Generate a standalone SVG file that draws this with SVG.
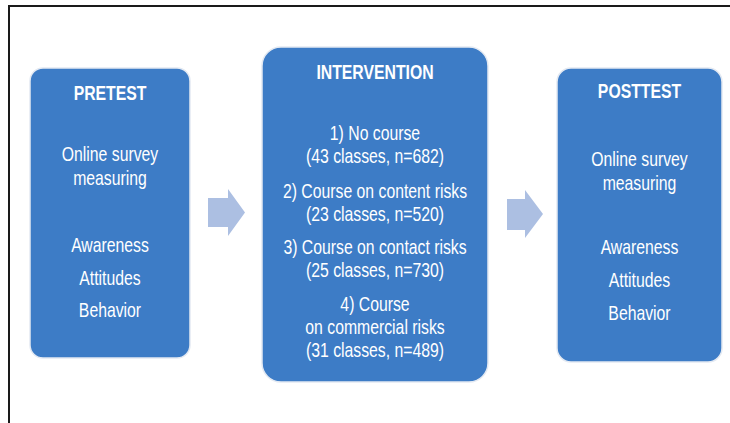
<svg xmlns="http://www.w3.org/2000/svg" width="730" height="423" viewBox="0 0 730 423">
<style>
.box{fill:#3d7cc6;stroke:#e3e9f2;stroke-width:1.5}
.t{font-family:"Liberation Sans",Arial,sans-serif;font-size:20.5px;fill:#ffffff;text-anchor:middle}
.h{font-weight:bold}
.arrow{fill:#acbfe2}
</style>
<rect width="730" height="423" fill="#ffffff"/>
<path d="M9 423 V6 H730" fill="none" stroke="#1a1a1a" stroke-width="2"/>
<g id="connectors">
<polygon class="arrow" points="208,198 228,198 228,189 245,212.5 228,236 228,227 208,227"/>
<polygon class="arrow" points="507,199 525,199 525,190 543,214 525,238 525,230 507,230"/>
</g>
<g id="pretest">
<rect class="box" x="30" y="68" width="160" height="290" rx="13"/>
<g transform="translate(110 0) scale(0.77 1)">
<text class="t h" x="0" y="100">PRETEST</text>
<text class="t" x="0" y="161">Online survey</text>
<text class="t" x="0" y="185">measuring</text>
<text class="t" x="0" y="252">Awareness</text>
<text class="t" x="0" y="285">Attitudes</text>
<text class="t" x="0" y="317">Behavior</text>
</g>
</g>
<g id="intervention">
<rect class="box" x="262" y="47" width="226" height="335" rx="19"/>
<g transform="translate(375 0) scale(0.77 1)">
<text class="t h" x="0" y="79">INTERVENTION</text>
<text class="t" x="0" y="140">1) No course</text>
<text class="t" x="0" y="163">(43 classes, n=682)</text>
<text class="t" x="0" y="198">2) Course on content risks</text>
<text class="t" x="0" y="221">(23 classes, n=520)</text>
<text class="t" x="0" y="254">3) Course on contact risks</text>
<text class="t" x="0" y="277">(25 classes, n=730)</text>
<text class="t" x="0" y="311">4) Course</text>
<text class="t" x="0" y="334">on commercial risks</text>
<text class="t" x="0" y="357">(31 classes, n=489)</text>
</g>
</g>
<g id="posttest">
<rect class="box" x="557" y="68" width="165" height="294" rx="14"/>
<g transform="translate(639.5 0) scale(0.77 1)">
<text class="t h" x="0" y="98">POSTTEST</text>
<text class="t" x="0" y="166">Online survey</text>
<text class="t" x="0" y="190">measuring</text>
<text class="t" x="0" y="254">Awareness</text>
<text class="t" x="0" y="287">Attitudes</text>
<text class="t" x="0" y="320">Behavior</text>
</g>
</g>
</svg>
